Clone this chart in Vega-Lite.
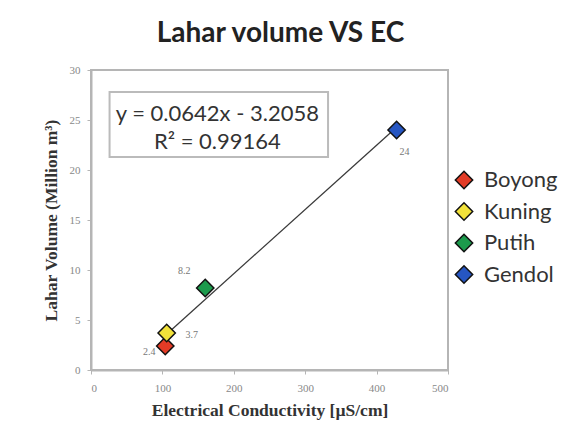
{
  "$schema": "https://vega.github.io/schema/vega-lite/v6.json",
  "width": 357,
  "height": 300,
  "autosize": {"type": "none"},
  "padding": {"left": 91, "top": 70, "right": 137, "bottom": 71},
  "background": "white",
  "title": {
    "text": "Lahar volume VS EC",
    "font": "Lato",
    "fontSize": 28,
    "fontWeight": "bold",
    "color": "#222222",
    "anchor": "middle",
    "dx": 11,
    "offset": 16
  },
  "config": {
    "view": {"stroke": "#b5b5b5", "strokeWidth": 2},
    "axis": {
      "grid": false,
      "domainColor": "#b5b5b5",
      "domainWidth": 2,
      "tickColor": "#b5b5b5",
      "tickSize": 4,
      "labelFont": "Liberation Serif",
      "labelFontSize": 11,
      "labelColor": "#888888",
      "titleFont": "Liberation Serif",
      "titleFontSize": 17.5,
      "titleFontWeight": "bold",
      "titleColor": "#333333"
    },
    "legend": {
      "labelFont": "Lato",
      "labelFontSize": 22,
      "labelColor": "#333333",
      "symbolStrokeColor": "#111111",
      "symbolStrokeWidth": 1.5,
      "symbolSize": 300,
      "symbolType": "diamond",
      "rowPadding": 7.5,
      "labelOffset": 9
    }
  },
  "datasets": {
    "points": [
      {"river": "Boyong", "ec": 104, "volume": 2.4, "label": "2.4"},
      {"river": "Kuning", "ec": 106, "volume": 3.7, "label": "3.7"},
      {"river": "Putih", "ec": 160, "volume": 8.2, "label": "8.2"},
      {"river": "Gendol", "ec": 428, "volume": 24, "label": "24"}
    ],
    "fit": [
      {"ec": 107, "volume": 3.66},
      {"ec": 428, "volume": 24.27}
    ],
    "box": [
      {"x1": 26, "x2": 332, "y1": 21.3, "y2": 27.8}
    ],
    "eq": [
      {"ec": 177, "volume": 25.6, "text": "y = 0.0642x - 3.2058"},
      {"ec": 177, "volume": 22.85, "text": "R² = 0.99164"}
    ]
  },
  "layer": [
    {
      "data": {"name": "box"},
      "mark": {"type": "rect", "fill": "white", "stroke": "#bbbbbb", "strokeWidth": 2},
      "encoding": {
        "x": {"field": "x1", "type": "quantitative", "scale": {"domain": [0, 500]}},
        "x2": {"field": "x2"},
        "y": {"field": "y1", "type": "quantitative", "scale": {"domain": [0, 30]}},
        "y2": {"field": "y2"}
      }
    },
    {
      "data": {"name": "eq"},
      "mark": {"type": "text", "font": "Lato", "fontSize": 22, "color": "#333333", "align": "center", "baseline": "middle"},
      "encoding": {
        "x": {"field": "ec", "type": "quantitative"},
        "y": {"field": "volume", "type": "quantitative"},
        "text": {"field": "text"}
      }
    },
    {
      "data": {"name": "fit"},
      "mark": {"type": "line", "color": "#3a3a3a", "strokeWidth": 1.3},
      "encoding": {
        "x": {"field": "ec", "type": "quantitative"},
        "y": {"field": "volume", "type": "quantitative"}
      }
    },
    {
      "data": {"name": "points"},
      "mark": {"type": "point", "shape": "diamond", "filled": true, "size": 300, "stroke": "#111111", "strokeWidth": 1.5, "opacity": 1},
      "encoding": {
        "x": {
          "field": "ec", "type": "quantitative",
          "scale": {"domain": [0, 500], "nice": false},
          "axis": {"values": [0, 100, 200, 300, 400, 500], "title": "Electrical Conductivity [µS/cm]", "labelPadding": 8, "titlePadding": 8}
        },
        "y": {
          "field": "volume", "type": "quantitative",
          "scale": {"domain": [0, 30], "nice": false},
          "axis": {"values": [0, 5, 10, 15, 20, 25, 30], "title": "Lahar Volume (Million m³)", "labelPadding": 7, "titlePadding": 9}
        },
        "color": {
          "field": "river", "type": "nominal",
          "scale": {"domain": ["Boyong", "Kuning", "Putih", "Gendol"], "range": ["#e23b26", "#f2e23a", "#1c9a4c", "#2656c2"]},
          "legend": {"title": null, "orient": "none", "legendX": 362, "legendY": 99}
        }
      }
    },
    {
      "data": {"name": "points"},
      "transform": [{"filter": "datum.river === 'Boyong'"}],
      "mark": {"type": "text", "font": "Liberation Serif", "fontSize": 10, "color": "#777777", "dx": -16, "dy": 6},
      "encoding": {"x": {"field": "ec", "type": "quantitative"}, "y": {"field": "volume", "type": "quantitative"}, "text": {"field": "label"}}
    },
    {
      "data": {"name": "points"},
      "transform": [{"filter": "datum.river === 'Kuning'"}],
      "mark": {"type": "text", "font": "Liberation Serif", "fontSize": 10, "color": "#777777", "dx": 25, "dy": 2},
      "encoding": {"x": {"field": "ec", "type": "quantitative"}, "y": {"field": "volume", "type": "quantitative"}, "text": {"field": "label"}}
    },
    {
      "data": {"name": "points"},
      "transform": [{"filter": "datum.river === 'Putih'"}],
      "mark": {"type": "text", "font": "Liberation Serif", "fontSize": 10, "color": "#777777", "dx": -21, "dy": -17},
      "encoding": {"x": {"field": "ec", "type": "quantitative"}, "y": {"field": "volume", "type": "quantitative"}, "text": {"field": "label"}}
    },
    {
      "data": {"name": "points"},
      "transform": [{"filter": "datum.river === 'Gendol'"}],
      "mark": {"type": "text", "font": "Liberation Serif", "fontSize": 10, "color": "#777777", "dx": 8, "dy": 22},
      "encoding": {"x": {"field": "ec", "type": "quantitative"}, "y": {"field": "volume", "type": "quantitative"}, "text": {"field": "label"}}
    }
  ]
}
